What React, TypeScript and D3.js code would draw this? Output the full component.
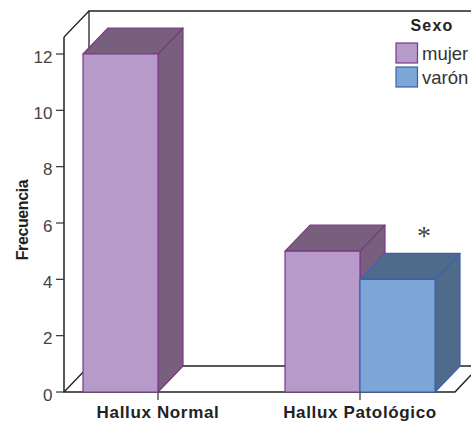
import React from "react";
import * as d3 from "d3";

const categories = ["Hallux Normal", "Hallux Patológico"];
const seriesNames = ["mujer", "varón"];
const mujerValues = [12, 5];
const varonValues = [0, 4];
const yTicks = [0, 2, 4, 6, 8, 10, 12];

const W = 471, H = 421;
const DX = 25, DY = 26;
const y = d3.scaleLinear().domain([0, 12]).range([392, 54]);
const xCenter = d3.scalePoint<string>().domain(categories).range([158, 360]);
const barW = 75;

const fills: Record<string, { front: string; dark: string; stroke: string }> = {
  mujer: { front: "#b59aca", dark: "#775f7d", stroke: "#7a3a85" },
  "varón": { front: "#7ba6d6", dark: "#4f6b8c", stroke: "#3f5fae" },
};

function Bar3D({ x0, value, name }: { x0: number; value: number; name: string }) {
  if (!value) return null;
  const c = fills[name];
  const x1 = x0 + barW, yt = y(value), yb = y(0);
  const poly = (p: number[][]) => (d3.line()(p as [number, number][]) as string) + "Z";
  return (
    <g stroke={c.stroke} strokeWidth={1.2} strokeLinejoin="round">
      <path d={poly([[x1, yt], [x1 + DX, yt - DY], [x1 + DX, yb - DY], [x1, yb]])} fill={c.dark} />
      <path d={poly([[x0, yt], [x0 + DX, yt - DY], [x1 + DX, yt - DY], [x1, yt]])} fill={c.dark} />
      <rect x={x0} y={yt} width={barW} height={yb - yt} fill={c.front} />
    </g>
  );
}

export default function App() {
  const y0 = y(0);
  const axisX = 64;
  const font = "Liberation Sans, Arial, sans-serif";
  const bars = categories.flatMap((cat, i) => {
    const cx = xCenter(cat) as number;
    if (mujerValues[i] && varonValues[i]) {
      return [
        { key: cat + "m", x0: cx - barW, value: mujerValues[i], name: seriesNames[0] },
        { key: cat + "v", x0: cx, value: varonValues[i], name: seriesNames[1] },
      ];
    }
    return [{ key: cat + "m", x0: cx - barW, value: mujerValues[i], name: seriesNames[0] }];
  });
  return (
    <svg width={W} height={H} viewBox={`0 0 ${W} ${H}`} style={{ position: "absolute", left: 0, top: 0, background: "#fff" }} fontFamily={font}>
      <g fill="none" stroke="#222" strokeWidth={1.3}>
        <path d={`M${axisX + DX},${y0 - DY}V11H${W}`} />
        <path d={`M${axisX},${y0}L${axisX + DX},${y0 - DY}H${W}`} />
        <path d={`M${axisX},37L${axisX + DX},11`} />
      </g>
      <g fill="none" stroke="#222" strokeWidth={1.5}>
        <path d={`M${axisX},37V${y0}H455L${W},375`} />
      </g>
      {yTicks.map((t) => (
        <g key={t}>
          <line x1={56} x2={axisX} y1={y(t)} y2={y(t)} stroke="#333" strokeWidth={1.2} />
          <text x={52.5} y={y(t) + 8.5} textAnchor="end" fontSize={17} fill="#444">{t}</text>
        </g>
      ))}
      {categories.map((c) => (
        <line key={c} x1={xCenter(c)} x2={xCenter(c)} y1={y0} y2={400} stroke="#333" strokeWidth={1.2} />
      ))}
      {bars.map((b) => <Bar3D key={b.key} x0={b.x0} value={b.value} name={b.name} />)}
      <text x={424} y={245} textAnchor="middle" fontSize={28} fill="#444" fontFamily="Liberation Serif">*</text>
      <text x={158} y={417.5} textAnchor="middle" fontSize={17} letterSpacing={0.65} fontWeight="bold" fill="#222">{categories[0]}</text>
      <text x={360} y={417.5} textAnchor="middle" fontSize={17} letterSpacing={0.65} fontWeight="bold" fill="#222">{categories[1]}</text>
      <text transform="translate(27.5,220) rotate(-90)" textAnchor="middle" fontSize={16} letterSpacing={-0.4} fontWeight="bold" fill="#222">Frecuencia</text>
      <text x={432} y={31} textAnchor="middle" fontSize={16} fontWeight="bold" letterSpacing={1.2} fill="#222">Sexo</text>
      {seriesNames.map((n, i) => (
        <g key={n}>
          <rect x={396} y={43 + i * 24} width={21.5} height={20} fill={fills[n].front} stroke={fills[n].stroke} strokeWidth={1.2} />
          <text x={422} y={60 + i * 24} fontSize={18.5} fill="#333">{n}</text>
        </g>
      ))}
    </svg>
  );
}
